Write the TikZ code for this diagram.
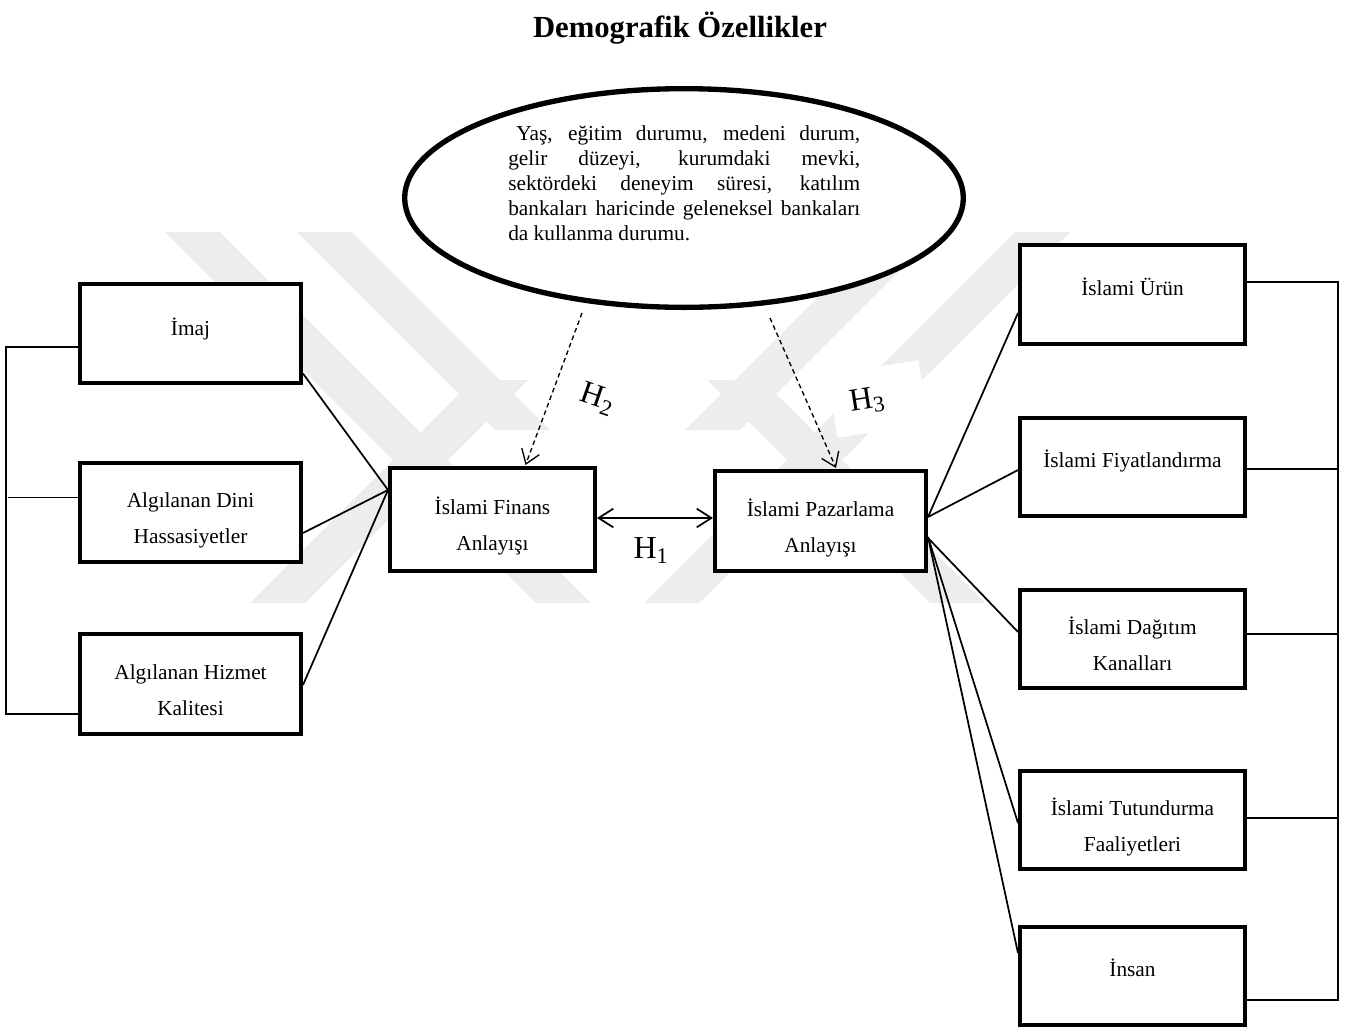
\documentclass[tikz,border=0pt]{standalone}
\usepackage{fontspec}
\setmainfont{Liberation Serif}
\usetikzlibrary{arrows.meta,calc,shapes.geometric}
\begin{document}
\begin{tikzpicture}[x=0.75pt,y=-0.75pt,
  wm/.style={fill=black!7, draw=none},
  box/.style 2 args={draw, line width=3pt, fill=white, inner sep=0pt, minimum width=#1, minimum height=#2},
  txt/.style={font={\fontsize{16}{27}\selectfont}, align=center, inner sep=0pt},
  conn/.style={line width=1.3pt},
  dsh/.style={line width=1pt, dash pattern=on 3.5pt off 2.5pt},
  hlab/.style={font={\fontsize{24}{24}\selectfont}, inner sep=0pt},
  bglab/.style={hlab, fill=white, draw=none}]
\useasboundingbox (0,0) rectangle (1347,1032);
% watermark
\fill[wm] (165,232) -- (220,232) -- (591,603) -- (536,603) -- cycle;
\fill[wm] (1015,232) -- (1070,232) -- (699,603) -- (644,603) -- cycle;
\fill[wm] (297,232) -- (352,232) -- (550,430) -- (495,430) -- cycle;
\fill[wm] (250,603) -- (305,603) -- (528,380) -- (473,380) -- cycle;
\fill[wm] (938,232) -- (883,232) -- (685,430) -- (740,430) -- cycle;
\fill[wm] (985,603) -- (930,603) -- (707,380) -- (762,380) -- cycle;
% title
\node[anchor=base, inner sep=0pt, font={\fontsize{23}{23}\selectfont\bfseries}] (title) at (680,37) {Demografik Özellikler};
% ellipse
\node[ellipse, draw, line width=4pt, fill=white, inner sep=0pt, minimum width=419pt, minimum height=164pt] (demo) at (684,198) {};
\node[anchor=north west, inner sep=0pt, font={\fontsize{16}{18.75}\selectfont}] (demotxt) at (508,122.5)
 {\parbox[t]{264pt}{\strut\makebox[264pt][s]{\hspace*{6pt}Yaş, eğitim durumu, medeni durum,}\\
  \makebox[264pt][s]{gelir düzeyi, kurumdaki mevki,}\\
  \makebox[264pt][s]{sektördeki deneyim süresi, katılım}\\
  \makebox[264pt][s]{bankaları haricinde geleneksel bankaları}\\
  da kullanma durumu.}};
% boxes
\node[box={165.75pt}{74.25pt}] (imaj) at (190.5,333.5) {};
\node[box={165.75pt}{74.25pt}] (dini) at (190.5,512.5) {};
\node[box={165.75pt}{75pt}] (hizmet) at (190.5,684) {};
\node[box={153.75pt}{77.25pt}] (finans) at (492.5,519.5) {};
\node[box={158.25pt}{75pt}] (pazar) at (820.5,521) {};
\node[box={168.75pt}{74.25pt}] (urun) at (1132.5,294.5) {};
\node[box={168.75pt}{73.5pt}] (fiyat) at (1132.5,467) {};
\node[box={168.75pt}{73.5pt}] (dagitim) at (1132.5,639) {};
\node[box={168.75pt}{73.5pt}] (tutun) at (1132.5,820) {};
\node[box={168.75pt}{73.5pt}] (insan) at (1132.5,976) {};
% texts
\node[txt] (t-imaj) at (190.5,328) {\strut İmaj};
\node[txt] (t-dini) at (190.5,518) {\strut Algılanan Dini\\\strut Hassasiyetler};
\node[txt] (t-hizmet) at (190.5,690) {\strut Algılanan Hizmet\\\strut Kalitesi};
\node[txt] (t-finans) at (492.5,525) {\strut İslami Finans\\\strut Anlayışı};
\node[txt] (t-pazar) at (820.5,527) {\strut İslami Pazarlama\\\strut Anlayışı};
\node[txt] (t-urun) at (1132.5,288) {\strut İslami Ürün};
\node[txt] (t-fiyat) at (1132.5,460) {\strut İslami Fiyatlandırma};
\node[txt] (t-dagitim) at (1132.5,645) {\strut İslami Dağıtım\\\strut Kanalları};
\node[txt] (t-tutun) at (1132.5,826) {\strut İslami Tutundurma\\\strut Faaliyetleri};
\node[txt] (t-insan) at (1132.5,969) {\strut İnsan};
% left bracket
\draw[conn] ($(imaj.west)+(0,13.5)$) -| ($(hizmet.west)+(-72,30)$) -- ($(hizmet.west)+(0,30)$);
\draw[conn] ($(dini.west)+(0,-15)$) -- ++(-70,0);
% right bracket
\draw[conn] ($(urun.east)+(0,-12.5)$) -| ($(insan.east)+(91,24)$) -- ($(insan.east)+(0,24)$);
\draw[conn] ($(fiyat.east)+(0,2)$) -- ++(91,0);
\draw[conn] ($(dagitim.east)+(0,-5)$) -- ++(91,0);
\draw[conn] ($(tutun.east)+(0,-2)$) -- ++(91,0);
% left connectors
\coordinate (finin) at ($(finans.west)+(0,-29.5)$);
\draw[conn] ($(imaj.east)+(0,40)$) -- (finin);
\draw[conn] ($(dini.east)+(0,20.5)$) -- (finin);
\draw[conn] ($(hizmet.east)+(0,1)$) -- (finin);
% right connectors
\coordinate (pza) at ($(pazar.east)+(0,-4)$);
\coordinate (pzb) at ($(pazar.east)+(0,17)$);
\coordinate (pzc) at ($(pazar.east)+(0,16)$);
\draw[conn] (pza) -- ($(urun.west)+(0,18.5)$);
\draw[conn] (pza) -- ($(fiyat.west)+(0,3)$);
\draw[conn] (pzb) -- ($(dagitim.west)+(0,-7)$);
\draw[conn] (pzc) -- ($(tutun.west)+(0,3)$);
\draw[conn] (pzc) -- ($(insan.west)+(0,-23)$);
% H1
\draw[conn, {Straight Barb[length=11pt,width=14pt]}-{Straight Barb[length=11pt,width=14pt]}] ($(finans.east)+(0,-1.5)$) -- ($(pazar.west)+(0,-3)$);
\node[hlab] (h1) at (651,551) {H\textsubscript{1}};
% H2, H3 (labels on white patches)
\node[bglab, rotate=-19, minimum width=75pt, minimum height=52pt] (h2) at (603,401) {H\textsubscript{2}\hspace*{9pt}};
\node[bglab, rotate=9, minimum width=69pt, minimum height=48pt] (h3) at (878,399) {H\textsubscript{3}\hspace*{16.5pt}};
\coordinate (h2s) at (582,313);
\coordinate (h3s) at (770,318);
\draw[dsh, -{Straight Barb[length=10pt,width=14pt]}] (h2s) -- ($(finans.north)+(33,-1)$);
\draw[dsh, -{Straight Barb[length=10pt,width=14pt]}] (h3s) -- ($(pazar.north)+(15.5,-1)$);
\end{tikzpicture}
\end{document}
